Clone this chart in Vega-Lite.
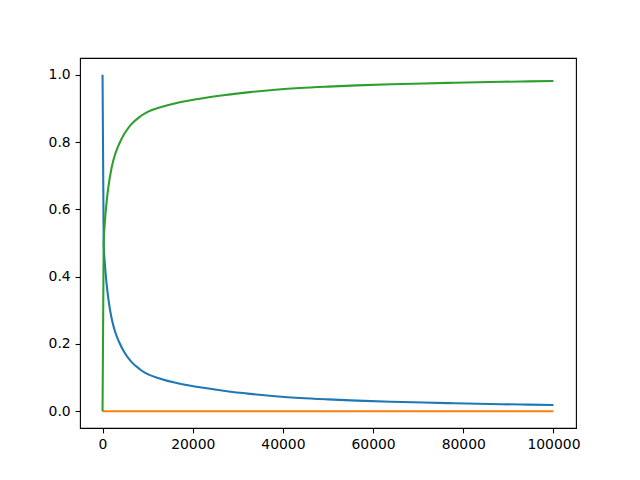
{
  "$schema": "https://vega.github.io/schema/vega-lite/v6.json",
  "width": 496,
  "height": 370,
  "autosize": {"type": "none"},
  "padding": {"left": 80, "top": 58, "right": 64, "bottom": 52},
  "background": "white",
  "config": {
    "view": {"stroke": "black", "strokeWidth": 1.1},
    "axis": {
      "grid": false,
      "domain": false,
      "tickColor": "black",
      "tickWidth": 1.1,
      "tickSize": 4.9,
      "labelColor": "black",
      "labelFont": "DejaVu Sans",
      "labelFontSize": 13.9,
      "labelPadding": 4.9,
      "title": null
    }
  },
  "data": {
    "values": [
      {"x": 0, "v": 1.0, "s": "a"},
      {"x": 250, "v": 0.5, "s": "a"},
      {"x": 500, "v": 0.44, "s": "a"},
      {"x": 930, "v": 0.375, "s": "a"},
      {"x": 1290, "v": 0.334, "s": "a"},
      {"x": 2030, "v": 0.275, "s": "a"},
      {"x": 2770, "v": 0.237, "s": "a"},
      {"x": 3700, "v": 0.205, "s": "a"},
      {"x": 4800, "v": 0.176, "s": "a"},
      {"x": 6300, "v": 0.148, "s": "a"},
      {"x": 8320, "v": 0.124, "s": "a"},
      {"x": 10000, "v": 0.11, "s": "a"},
      {"x": 13000, "v": 0.096, "s": "a"},
      {"x": 16000, "v": 0.085, "s": "a"},
      {"x": 21600, "v": 0.071, "s": "a"},
      {"x": 27200, "v": 0.06, "s": "a"},
      {"x": 32700, "v": 0.0515, "s": "a"},
      {"x": 38300, "v": 0.0445, "s": "a"},
      {"x": 43800, "v": 0.0392, "s": "a"},
      {"x": 50000, "v": 0.035, "s": "a"},
      {"x": 56400, "v": 0.0315, "s": "a"},
      {"x": 64000, "v": 0.0282, "s": "a"},
      {"x": 71200, "v": 0.0256, "s": "a"},
      {"x": 78000, "v": 0.0235, "s": "a"},
      {"x": 86000, "v": 0.0213, "s": "a"},
      {"x": 93000, "v": 0.0197, "s": "a"},
      {"x": 100000, "v": 0.0183, "s": "a"},
      {"x": 0, "v": 0.0, "s": "b"},
      {"x": 100000, "v": 0.0, "s": "b"},
      {"x": 0, "v": 0.0, "s": "c"},
      {"x": 250, "v": 0.5, "s": "c"},
      {"x": 500, "v": 0.56, "s": "c"},
      {"x": 930, "v": 0.625, "s": "c"},
      {"x": 1290, "v": 0.666, "s": "c"},
      {"x": 2030, "v": 0.725, "s": "c"},
      {"x": 2770, "v": 0.763, "s": "c"},
      {"x": 3700, "v": 0.795, "s": "c"},
      {"x": 4800, "v": 0.824, "s": "c"},
      {"x": 6300, "v": 0.852, "s": "c"},
      {"x": 8320, "v": 0.876, "s": "c"},
      {"x": 10000, "v": 0.89, "s": "c"},
      {"x": 13000, "v": 0.904, "s": "c"},
      {"x": 16000, "v": 0.915, "s": "c"},
      {"x": 21600, "v": 0.929, "s": "c"},
      {"x": 27200, "v": 0.94, "s": "c"},
      {"x": 32700, "v": 0.9485, "s": "c"},
      {"x": 38300, "v": 0.9555, "s": "c"},
      {"x": 43800, "v": 0.9608, "s": "c"},
      {"x": 50000, "v": 0.965, "s": "c"},
      {"x": 56400, "v": 0.9685, "s": "c"},
      {"x": 64000, "v": 0.9718, "s": "c"},
      {"x": 71200, "v": 0.9744, "s": "c"},
      {"x": 78000, "v": 0.9765, "s": "c"},
      {"x": 86000, "v": 0.9787, "s": "c"},
      {"x": 93000, "v": 0.9803, "s": "c"},
      {"x": 100000, "v": 0.9817, "s": "c"}
    ]
  },
  "mark": {"type": "line", "strokeWidth": 2.08, "interpolate": "monotone", "clip": true},
  "encoding": {
    "x": {
      "field": "x",
      "type": "quantitative",
      "scale": {"domain": [-5000, 105000], "nice": false, "zero": false},
      "axis": {"values": [0, 20000, 40000, 60000, 80000, 100000], "format": "d"}
    },
    "y": {
      "field": "v",
      "type": "quantitative",
      "scale": {"domain": [-0.05, 1.05], "nice": false, "zero": false},
      "axis": {"values": [0, 0.2, 0.4, 0.6, 0.8, 1.0], "format": ".1f"}
    },
    "color": {
      "field": "s",
      "type": "nominal",
      "scale": {"domain": ["a", "b", "c"], "range": ["#1f77b4", "#ff7f0e", "#2ca02c"]},
      "legend": null
    },
    "order": {"field": "x", "type": "quantitative"}
  }
}
